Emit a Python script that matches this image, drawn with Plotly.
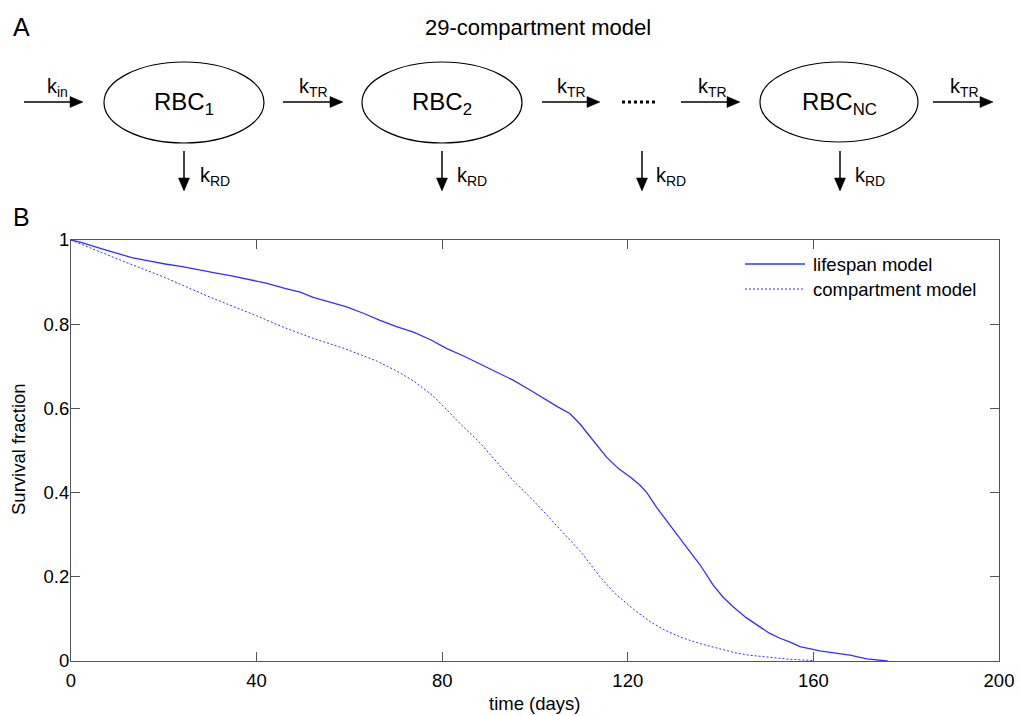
import plotly.graph_objects as go

# Survival curves (time in days, fraction surviving)
t_lifespan = [0, 2, 5.8, 9, 13.1, 17, 20.3, 24, 27.4, 31, 34.6, 38, 41.8, 46.1, 49.4,
              52.2, 55.8, 59.4, 63, 66.6, 70, 73.8, 77.5, 81, 84.5, 88.1, 92.5, 95.3,
              99, 102.5, 105, 107.5, 109.7, 111.5, 113.3, 115.5, 118, 120.5, 122.6,
              124.1, 126.2, 129.5, 132, 135.6, 138.4, 140.5, 142.7, 145.5, 148.5,
              150.5, 152.8, 155, 157.1, 161.4, 164, 167.9, 171.5, 176]
s_lifespan = [1.0, 0.995, 0.982, 0.972, 0.958, 0.95, 0.943, 0.937, 0.929, 0.922, 0.915,
              0.907, 0.898, 0.885, 0.876, 0.864, 0.853, 0.841, 0.826, 0.809, 0.795,
              0.781, 0.763, 0.742, 0.725, 0.706, 0.683, 0.667, 0.643, 0.619, 0.603,
              0.588, 0.563, 0.538, 0.513, 0.483, 0.457, 0.437, 0.418, 0.4, 0.365,
              0.315, 0.28, 0.228, 0.18, 0.152, 0.129, 0.103, 0.081, 0.066, 0.054,
              0.045, 0.034, 0.024, 0.02, 0.014, 0.005, 0.0]

t_compartment = [0, 5, 10, 20, 30, 40, 46, 52, 59, 66, 70, 74, 78, 81, 84, 88, 92, 95,
                 100, 103, 107, 110, 114, 117, 121, 125, 128, 132, 136, 140, 143, 146,
                 150, 155, 160]
s_compartment = [1.0, 0.977, 0.955, 0.912, 0.864, 0.82, 0.792, 0.767, 0.742, 0.712,
                 0.69, 0.664, 0.63, 0.597, 0.562, 0.52, 0.47, 0.432, 0.377, 0.342,
                 0.295, 0.258, 0.2, 0.163, 0.125, 0.092, 0.073, 0.054, 0.04, 0.028,
                 0.02, 0.014, 0.009, 0.004, 0.001]

x_ticks = [0, 40, 80, 120, 160, 200]
y_ticks = [0, 0.2, 0.4, 0.6, 0.8, 1]
y_tick_text = ["0", "0.2", "0.4", "0.6", "0.8", "1"]

series_names = ["lifespan model", "compartment model"]

BLUE = "#3030ff"
AXIS = "#555555"
FONT = "Liberation Sans, Arial, Helvetica, sans-serif"

W, H = 1020, 716
L, R, T, B = 71, 21, 240, 55
PW, PH = W - L - R, H - T - B


def fx(px):
    """Figure pixel x -> paper coordinate."""
    return (px - L) / PW


def fy(py):
    """Figure pixel y (from top) -> paper coordinate."""
    return (H - B - py) / PH


fig = go.Figure()
fig.add_trace(go.Scatter(x=t_lifespan, y=s_lifespan, mode="lines", name=series_names[0],
                         line=dict(color=BLUE, width=1.3), showlegend=False))
fig.add_trace(go.Scatter(x=t_compartment, y=s_compartment, mode="lines", name=series_names[1],
                         line=dict(color=BLUE, width=1.0, dash="2px,2px"), showlegend=False))

shapes = []
annotations = []


def line(x0, y0, x1, y1, color="black", width=1.5, dash=None):
    d = dict(type="line", xref="paper", yref="paper",
             x0=fx(x0), y0=fy(y0), x1=fx(x1), y1=fy(y1),
             line=dict(color=color, width=width))
    if dash:
        d["line"]["dash"] = dash
    shapes.append(d)


def tri(points):
    path = "M " + " L ".join(f"{fx(a):.5f},{fy(b):.5f}" for a, b in points) + " Z"
    shapes.append(dict(type="path", xref="paper", yref="paper", path=path,
                       fillcolor="black", line=dict(color="black", width=0.5)))


def arrow_right(x0, x1, y):
    line(x0, y, x1 - 10, y)
    tri([(x1, y), (x1 - 13, y - 5.5), (x1 - 13, y + 5.5)])


def arrow_down(x, y0, y1):
    line(x, y0, x, y1 - 10)
    tri([(x, y1), (x - 5.5, y1 - 13), (x + 5.5, y1 - 13)])


def ellipse(x0, x1, y0, y1):
    shapes.append(dict(type="circle", xref="paper", yref="paper",
                       x0=fx(x0), x1=fx(x1), y0=fy(y1), y1=fy(y0),
                       line=dict(color="black", width=1.2)))


def text(px, py, s, size, xanchor="center", yanchor="middle", angle=0):
    annotations.append(dict(x=fx(px), y=fy(py), xref="paper", yref="paper", text=s,
                            showarrow=False, xanchor=xanchor, yanchor=yanchor,
                            textangle=angle, font=dict(family=FONT, size=size, color="black")))


# Panel A: compartment diagram
text(21, 27, "A", 25)
text(538, 27, "29-compartment model", 22)

ARROW_Y = 102
arrow_right(24, 83, ARROW_Y)
text(57, 88, "k<sub>in</sub>", 20)
ellipse(104, 264, 62, 143)
text(184, 103, "RBC<sub>1</sub>", 24)
arrow_right(283, 343, ARROW_Y)
text(313, 88, "k<sub>TR</sub>", 20)
ellipse(362, 522, 62, 143)
text(442, 103, "RBC<sub>2</sub>", 24)
arrow_right(542, 600, ARROW_Y)
text(571, 88, "k<sub>TR</sub>", 20)
line(622, ARROW_Y, 658, ARROW_Y, width=3, dash="3px,3px")
arrow_right(681, 740, ARROW_Y)
text(712, 88, "k<sub>TR</sub>", 20)
ellipse(760, 918, 62, 142)
text(839, 103, "RBC<sub>NC</sub>", 24)
arrow_right(933, 993, ARROW_Y)
text(964, 88, "k<sub>TR</sub>", 20)

for ax_x, lab_x in [(184, 215), (442, 472), (642, 671), (840, 870)]:
    arrow_down(ax_x, 151, 191)
    text(lab_x, 177, "k<sub>RD</sub>", 20)

# Panel B label and axis titles
text(21, 217, "B", 25)
text(18, 449, "Survival fraction", 18.5, angle=-90)
text(535, 703, "time (days)", 18.5)

# Legend
line(745, 264, 805, 264, color=BLUE, width=1.3)
line(745, 289, 805, 289, color=BLUE, width=1.0, dash="2px,2px")
text(811, 264, series_names[0], 18.5, xanchor="left")
text(811, 289, series_names[1], 18.5, xanchor="left")

axis_common = dict(showgrid=False, zeroline=False, showline=True, linecolor=AXIS,
                   linewidth=1, mirror="ticks", ticks="inside", ticklen=9,
                   tickcolor=AXIS, tickwidth=1,
                   tickfont=dict(family=FONT, size=18.5, color="black"))

fig.update_layout(
    width=W, height=H,
    margin=dict(l=L, r=R, t=T, b=B),
    paper_bgcolor="white", plot_bgcolor="white",
    template="none",
    showlegend=False,
    xaxis=dict(range=[0, 200], tickvals=x_ticks, ticklabelstandoff=3, **axis_common),
    yaxis=dict(range=[0, 1], tickvals=y_ticks, ticktext=y_tick_text,
               ticklabelstandoff=-3, **axis_common),
    shapes=shapes,
    annotations=annotations,
)

fig.write_html("out.html")
